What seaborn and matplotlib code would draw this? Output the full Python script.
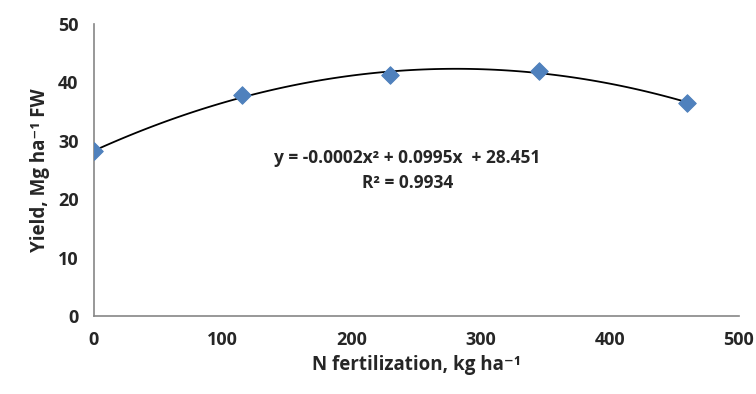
import numpy as np
import pandas as pd
import matplotlib
matplotlib.use("Agg")
import matplotlib.pyplot as plt
import seaborn as sns

# data
n_rate = [0, 115, 230, 345, 460]
yield_fw = [28.2, 37.8, 41.3, 42.0, 36.5]
eq_text = "y = -0.0002x² + 0.0995x  + 28.451"
r2_text = "R² = 0.9934"

df = pd.DataFrame({"N": n_rate, "Yield": yield_fw})

sns.set_style("white")
plt.rcParams['font.family'] = ['Open Sans', 'DejaVu Sans']

fig = plt.figure(figsize=(7.56, 3.94), dpi=100)
ax = fig.add_axes([0.124, 0.198, 0.853, 0.741])

# quadratic trendline (polynomial order 2) + markers
sns.regplot(x="N", y="Yield", data=df, order=2, ci=None, scatter=False,
            line_kws={"color": "black", "lw": 1.3}, ax=ax)
sns.scatterplot(x="N", y="Yield", data=df, marker="D", s=80,
                color="#4F81BD", edgecolor="#4F81BD", zorder=3, ax=ax)

ax.set_xlim(0, 500)
ax.set_ylim(0, 50)
ax.set_xticks(range(0, 501, 100))
ax.set_yticks(range(0, 51, 10))

for side in ["top", "right"]:
    ax.spines[side].set_visible(False)
for side in ["left", "bottom"]:
    ax.spines[side].set_color("#868686")
    ax.spines[side].set_linewidth(1.2)

ax.tick_params(axis="both", direction="out", length=5, width=1.0,
               color="#868686", labelsize=13, labelcolor="#262626", pad=6)
for lbl in ax.get_xticklabels() + ax.get_yticklabels():
    lbl.set_fontweight("bold")

ax.set_xlabel("N fertilization, kg ha⁻¹", fontsize=13.5, fontweight="bold",
              color="#262626", labelpad=4)
ax.set_ylabel("Yield, Mg ha⁻¹ FW", fontsize=13.5, fontweight="bold",
              color="#262626", labelpad=6)

# trendline equation
ax.text(243, 27.0, eq_text, ha="center", va="center", fontsize=12.5,
        fontweight="bold", color="#262626")
ax.text(243, 22.7, r2_text, ha="center", va="center", fontsize=12.5,
        fontweight="bold", color="#262626")

plt.savefig("out.png", dpi=100)
